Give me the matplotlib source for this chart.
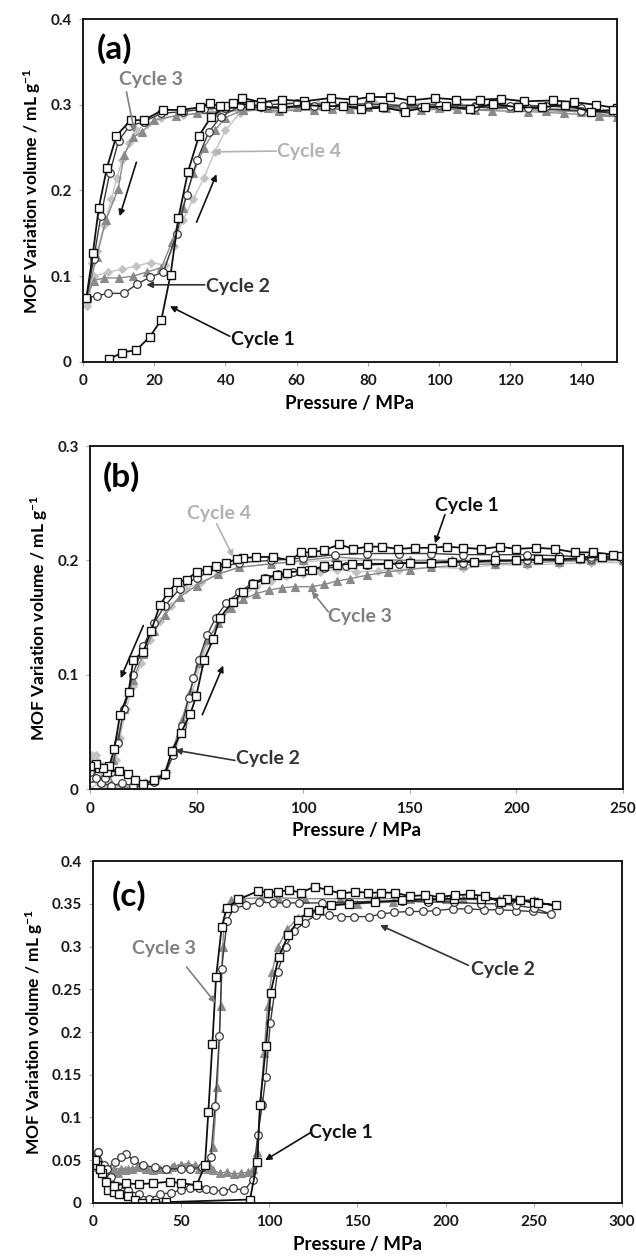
import matplotlib
matplotlib.use('Agg')
import matplotlib.pyplot as plt
from matplotlib.ticker import FuncFormatter

plt.rcParams['font.family'] = ['Lato', 'DejaVu Sans']
plt.rcParams['font.weight'] = 'bold'
plt.rcParams['axes.labelweight'] = 'bold'
plt.rcParams['mathtext.default'] = 'regular'

# ---------------- panel (a) ----------------
a_c1_p = [7.2, 11, 15, 18.7, 22, 24.6, 26.8, 29.5, 32.6, 36, 40, 44.8, 50, 56, 62, 69.8, 75.9, 80.5, 86.2, 92,
          98.8, 104.9, 111.4, 117.5, 124, 132, 138, 144, 150,
          148.9, 142.8, 135.3, 128.8, 122.2, 115.2, 108.6, 102.1, 96, 90.4, 84.3, 78.2, 73, 67.9, 62.3, 56, 50,
          47, 42, 38.4, 35.6, 32.8, 27.6, 22.5, 17, 13.4, 9.4, 6.7, 4.4, 2.8, 0.95]
a_c1_v = [0.003, 0.011, 0.014, 0.029, 0.049, 0.102, 0.168, 0.222, 0.264, 0.286, 0.298, 0.308, 0.303, 0.306, 0.304,
          0.308, 0.306, 0.309, 0.309, 0.305, 0.308, 0.306, 0.306, 0.307, 0.304, 0.305, 0.303, 0.300, 0.296,
          0.294, 0.292, 0.300, 0.297, 0.297, 0.301, 0.295, 0.298, 0.297, 0.292, 0.297, 0.295, 0.299, 0.298, 0.300,
          0.296, 0.298, 0.300, 0.302, 0.298, 0.302, 0.297, 0.294, 0.294, 0.282, 0.282, 0.264, 0.226, 0.179, 0.127, 0.075]

a_c2_p = [1, 3.8, 7, 11.5, 15.2, 18.9, 22.6, 26.3, 29.1, 32, 35.3, 38.7, 44, 52, 60, 70, 80, 90, 100, 110,
          120, 130, 140, 150,
          140, 125, 110, 95, 80, 65, 50, 40, 34, 28, 22, 17, 13, 10, 7.5, 5, 3, 1]
a_c2_v = [0.075, 0.077, 0.080, 0.080, 0.091, 0.099, 0.105, 0.149, 0.195, 0.235, 0.268, 0.286, 0.298, 0.300,
          0.302, 0.300, 0.301, 0.299, 0.300, 0.299, 0.298, 0.299, 0.296, 0.290,
          0.293, 0.296, 0.297, 0.297, 0.298, 0.298, 0.297, 0.296, 0.295, 0.292, 0.290, 0.280, 0.275, 0.258,
          0.220, 0.170, 0.120, 0.075]

a_c3_p = [1, 3, 6, 10, 14, 18, 22, 25, 28, 31, 34, 37, 40, 45, 52, 60, 70, 80, 90, 100, 110, 120, 130, 140, 150,
          145, 135, 125, 115, 105, 95, 85, 75, 65, 55, 45, 38, 32, 26, 20, 16.5, 14, 11.5, 9.9, 6.4, 3.8, 1]
a_c3_v = [0.075, 0.095, 0.098, 0.098, 0.100, 0.105, 0.110, 0.140, 0.180, 0.220, 0.250, 0.270, 0.285, 0.294,
          0.296, 0.297, 0.295, 0.297, 0.295, 0.296, 0.294, 0.296, 0.293, 0.292, 0.286,
          0.287, 0.290, 0.292, 0.293, 0.295, 0.294, 0.296, 0.295, 0.294, 0.293, 0.294, 0.292, 0.290, 0.287,
          0.282, 0.268, 0.262, 0.241, 0.202, 0.165, 0.122, 0.075]

a_c4_p = [1, 3, 7, 11, 15, 19, 23, 25.5, 28, 31, 34, 37, 40, 44, 50, 58, 66, 74, 82, 90, 98, 106, 114, 122,
          130, 138, 146, 150,
          144, 134, 124, 114, 104, 94, 84, 74, 64, 54, 44, 36, 28, 22, 18, 15, 13, 11, 9.5, 8, 6, 4, 2.5, 1]
a_c4_v = [0.065, 0.100, 0.105, 0.108, 0.112, 0.116, 0.113, 0.135, 0.165, 0.190, 0.215, 0.245, 0.270, 0.290,
          0.296, 0.299, 0.301, 0.300, 0.302, 0.299, 0.301, 0.300, 0.299, 0.301, 0.298, 0.296, 0.292, 0.288,
          0.291, 0.295, 0.297, 0.298, 0.299, 0.298, 0.299, 0.297, 0.296, 0.294, 0.293, 0.290, 0.288, 0.285,
          0.278, 0.270, 0.255, 0.235, 0.215, 0.190, 0.160, 0.130, 0.115, 0.070]

# ---------------- panel (b) ----------------
b_c1_p = [0, 4, 8, 13.8, 17.7, 21, 25, 30, 35.2, 38.3, 42.6, 47.1, 49.8, 53.5, 57.8, 60.9, 67.2, 71.6, 76.6, 82.2,
          87.5, 92.2, 99.2, 104, 110, 116, 123, 130, 140, 150, 160, 170, 180, 190, 200, 210, 220, 230, 240, 249,
          245.4, 236, 227.4, 218, 209.4, 200, 192.2, 183.6, 175, 167.3, 160.2, 152.4, 144.6, 136.8, 130.5, 123.5,
          117, 110, 104, 99.2, 93.8, 85.9, 78, 72, 68.8, 64, 59, 54.7, 50, 45.3, 40.7, 36.7, 32.8, 28.6, 25, 20.3,
          18.1, 14.1, 11.4, 9, 6, 3, 0]
b_c1_v = [0.020, 0.018, 0.015, 0.016, 0.013, 0.008, 0.004, 0.008, 0.013, 0.033, 0.049, 0.066, 0.081, 0.113,
          0.131, 0.150, 0.164, 0.172, 0.179, 0.184, 0.187, 0.189, 0.191, 0.192, 0.195, 0.196, 0.197, 0.197,
          0.197, 0.198, 0.198, 0.199, 0.199, 0.200, 0.200, 0.201, 0.201, 0.202, 0.203, 0.204,
          0.205, 0.207, 0.207, 0.210, 0.211, 0.210, 0.212, 0.210, 0.211, 0.212, 0.211, 0.211, 0.210, 0.212,
          0.212, 0.210, 0.214, 0.209, 0.207, 0.207, 0.200, 0.203, 0.203, 0.202, 0.201, 0.198, 0.195, 0.192,
          0.190, 0.183, 0.181, 0.172, 0.161, 0.138, 0.120, 0.113, 0.085, 0.065, 0.035, 0.020, 0.018, 0.022, 0.020]

b_c2_p = [0, 5, 10, 15, 20, 25, 30, 35, 39, 43, 46.3, 48.5, 51, 55, 59, 64, 70, 76, 82, 88, 95, 102, 110, 120,
          130, 145, 160, 175, 190, 205, 220, 235, 250,
          235, 220, 205, 190, 175, 160, 145, 130, 115, 100, 85, 70, 60, 50, 42, 35, 30, 25, 20, 16, 13, 10, 7, 3, 0]
b_c2_v = [0.010, 0.005, 0.003, 0.005, 0.003, 0.002, 0.006, 0.012, 0.030, 0.055, 0.080, 0.097, 0.113, 0.135,
          0.150, 0.163, 0.172, 0.180, 0.185, 0.188, 0.190, 0.192, 0.193, 0.195, 0.196, 0.197, 0.198, 0.198,
          0.199, 0.200, 0.200, 0.201, 0.201,
          0.203, 0.204, 0.205, 0.205, 0.205, 0.206, 0.206, 0.206, 0.205, 0.202, 0.200, 0.198, 0.193, 0.185,
          0.175, 0.160, 0.145, 0.125, 0.100, 0.070, 0.040, 0.015, 0.010, 0.010, 0.015]

b_c3_p = [0, 5, 10, 15, 20, 25, 30, 35, 39, 43, 47, 51, 55, 60, 66, 72, 78, 84, 90, 96, 104, 110, 116, 122, 130,
          140, 150, 160, 175, 190, 205, 220, 235, 250,
          230, 210, 190, 170, 150, 130, 115, 100, 85, 70, 60, 50, 42, 35, 30, 25, 20, 16, 13, 11, 8, 5, 2, 0]
b_c3_v = [0.010, 0.010, 0.005, 0.002, 0.001, 0.003, 0.008, 0.015, 0.035, 0.060, 0.085, 0.110, 0.130, 0.145,
          0.158, 0.166, 0.171, 0.174, 0.176, 0.177, 0.177, 0.179, 0.182, 0.184, 0.187, 0.190, 0.192, 0.194,
          0.196, 0.197, 0.198, 0.199, 0.200, 0.200,
          0.201, 0.200, 0.200, 0.200, 0.200, 0.201, 0.203, 0.200, 0.197, 0.194, 0.188, 0.178, 0.168, 0.152,
          0.138, 0.118, 0.095, 0.070, 0.045, 0.025, 0.012, 0.008, 0.012, 0.015]

b_c4_p = [0, 4, 8, 14, 20, 26, 32, 36, 40, 44, 48, 52, 56, 61, 66, 72, 78, 85, 92, 100, 108, 116, 125, 135, 145,
          160, 175, 190, 205, 220, 235, 250,
          230, 210, 190, 170, 150, 130, 115, 100, 85, 70, 60, 52, 45, 38, 33, 28, 24, 20, 17, 14, 12, 9, 6, 3, 1, 0]
b_c4_v = [0.000, 0.005, 0.003, 0.002, 0.003, 0.006, 0.010, 0.015, 0.033, 0.058, 0.085, 0.110, 0.130, 0.148,
          0.160, 0.170, 0.177, 0.182, 0.186, 0.188, 0.190, 0.192, 0.190, 0.191, 0.192, 0.194, 0.193, 0.196,
          0.196, 0.197, 0.198, 0.198,
          0.200, 0.200, 0.200, 0.200, 0.200, 0.200, 0.200, 0.199, 0.197, 0.194, 0.188, 0.181, 0.175, 0.160,
          0.147, 0.130, 0.110, 0.090, 0.070, 0.045, 0.025, 0.012, 0.020, 0.030, 0.030, 0.028]

# ---------------- panel (c) ----------------
c_c1_p = [2, 5, 8.5, 12, 15, 20, 24, 28, 35, 41.5, 89, 93.2, 94.7, 98.1, 100.8, 105.3, 110.8, 116.5, 122, 128,
          135, 145, 160, 175, 190, 205, 220, 235, 250, 262.7,
          252.3, 241.9, 231.5, 222.1, 213.6, 205.1, 196.6, 188.1, 179.6, 171, 163.5, 156, 148.4, 140.9, 133.3,
          125.7, 117.9, 111.3, 104.7, 99, 93.8, 82.4, 75.8, 73, 69.8, 67.7, 65.4, 63.5, 58.8, 50, 43.4, 34, 26,
          18.9, 12, 7.2, 4, 1]
c_c1_v = [0.045, 0.035, 0.015, 0.013, 0.011, 0.008, 0.004, 0.000, 0.000, 0.001, 0.004, 0.048, 0.115, 0.184,
          0.246, 0.288, 0.313, 0.331, 0.340, 0.343, 0.348, 0.350, 0.352, 0.354, 0.355, 0.356, 0.356, 0.356,
          0.352, 0.348,
          0.351, 0.354, 0.352, 0.359, 0.361, 0.360, 0.358, 0.360, 0.359, 0.363, 0.363, 0.363, 0.364, 0.362,
          0.366, 0.370, 0.363, 0.366, 0.364, 0.363, 0.365, 0.355, 0.345, 0.323, 0.264, 0.186, 0.106, 0.044,
          0.021, 0.023, 0.025, 0.023, 0.022, 0.023, 0.020, 0.025, 0.040, 0.050]

c_c2_p = [0, 3, 6, 10, 14, 20, 26, 32, 38, 44, 50, 55, 60.4, 64, 67.9, 73.6, 79.2, 85.8, 90.6, 93.4, 96, 98,
          100.5, 104.7, 109.4, 114, 120, 126.6, 134.1, 140.7, 148.2, 156.7, 163.3, 170.9, 179.4, 187, 194.5,
          204, 212.5, 221.9, 230.4, 239.9, 249.3, 259.7,
          250, 240, 230, 220, 205, 190, 175, 160, 145, 130, 117, 109.4, 101.9, 94.3, 86.8, 80, 76, 73, 71.7,
          69.2, 66.8, 62, 55, 50, 41.5, 35, 28.3, 23, 18.9, 16, 12.3, 8, 5, 2.8, 0]
c_c2_v = [0.052, 0.060, 0.045, 0.030, 0.020, 0.015, 0.010, 0.005, 0.010, 0.012, 0.015, 0.017, 0.018, 0.016,
          0.015, 0.014, 0.017, 0.015, 0.027, 0.079, 0.115, 0.147, 0.210, 0.270, 0.300, 0.318, 0.328, 0.337,
          0.337, 0.335, 0.335, 0.335, 0.338, 0.340, 0.341, 0.341, 0.342, 0.344, 0.344, 0.343, 0.343, 0.342,
          0.341, 0.338,
          0.345, 0.348, 0.350, 0.350, 0.352, 0.352, 0.353, 0.353, 0.352, 0.351, 0.351, 0.351, 0.351, 0.352,
          0.348, 0.345, 0.330, 0.274, 0.195, 0.113, 0.054, 0.042, 0.040, 0.040, 0.040, 0.042, 0.044, 0.050,
          0.057, 0.054, 0.048, 0.040, 0.035, 0.060, 0.052]

c_c3_p = [0, 4, 8, 12, 16, 20, 25, 30, 35, 40, 45, 50, 55, 60, 65, 68, 72, 76, 80, 84, 88, 91, 93, 95, 97, 99,
          101.5, 105, 110, 116, 124, 135, 150, 170, 190, 210, 230, 250,
          240, 220, 200, 180, 160, 140, 120, 105, 95, 85, 78, 75, 73.5, 72.4, 70.5, 68.2, 66, 62, 58, 54, 50, 46,
          42, 38, 34, 30, 26, 22, 18, 14, 10, 6, 3, 0]
c_c3_v = [0.045, 0.040, 0.035, 0.040, 0.040, 0.040, 0.042, 0.042, 0.040, 0.040, 0.042, 0.045, 0.042, 0.040,
          0.040, 0.038, 0.035, 0.036, 0.034, 0.035, 0.036, 0.040, 0.060, 0.120, 0.175, 0.230, 0.270, 0.300,
          0.320, 0.333, 0.342, 0.348, 0.350, 0.352, 0.354, 0.355, 0.355, 0.354,
          0.355, 0.356, 0.356, 0.356, 0.356, 0.356, 0.356, 0.357, 0.357, 0.356, 0.354, 0.345, 0.300, 0.230,
          0.136, 0.066, 0.045, 0.042, 0.044, 0.046, 0.045, 0.043, 0.040, 0.040, 0.038, 0.040, 0.042, 0.040,
          0.038, 0.035, 0.038, 0.040, 0.042, 0.045]

# styles for each cycle
c1 = dict(marker='s', color='#111111', mfc='white', mec='#111111', ms=6, lw=1.3, mew=1.0)
c2 = dict(marker='o', color='#3a3a3a', mfc='white', mec='#3a3a3a', ms=5.5, lw=1.0, mew=0.9)
c3 = dict(marker='^', color='#8a8a8a', mfc='#8a8a8a', mec='#8a8a8a', ms=5.5, lw=1.0, mew=0.8)
c4 = dict(marker='D', color='#c3c3c3', mfc='#c3c3c3', mec='#c3c3c3', ms=4.5, lw=1.0, mew=0.8)
txt1, txt2, txt3, txt4 = '#111111', '#333333', '#808080', '#b2b2b2'
lab_size = 14


def style_axis(ax, xticks, ymax, ystep, xmax):
    ax.set_xlim(0, xmax)
    ax.set_ylim(0, ymax)
    ax.set_xticks(xticks)
    ax.set_yticks([i * ystep for i in range(int(round(ymax / ystep)) + 1)])
    ax.yaxis.set_major_formatter(FuncFormatter(lambda v, pos: '%g' % round(v, 3)))
    ax.tick_params(labelsize=11, length=3, width=0.8, color='#aaaaaa', labelcolor='#1a1a1a')
    ax.tick_params(axis='x', pad=6)
    ax.tick_params(axis='y', pad=5)
    for lbl in ax.get_xticklabels() + ax.get_yticklabels():
        lbl.set_fontweight('bold')
    for s in ax.spines.values():
        s.set_linewidth(1.4)
        s.set_color('#1a1a1a')
    ax.set_xlabel('Pressure / MPa', fontsize=13.5, fontweight='bold', labelpad=5)
    ax.set_ylabel(r'MOF Variation volume / mL g$^{-1}$', fontsize=12.5, fontweight='bold', labelpad=5)


def arrow(ax, start, end, color):
    ax.annotate('', xy=end, xytext=start,
                arrowprops=dict(arrowstyle='-|>', color=color, lw=1.2, mutation_scale=9,
                                shrinkA=0, shrinkB=0))


fig = plt.figure(figsize=(6.36, 12.59), dpi=100)

# Panel (a)
ax = fig.add_axes([0.1305, 0.7125, 0.8396, 0.2724])
ax.plot(a_c4_p, a_c4_v, **c4)
ax.plot(a_c3_p, a_c3_v, **c3)
ax.plot(a_c2_p, a_c2_v, **c2)
ax.plot(a_c1_p, a_c1_v, **c1)
style_axis(ax, [0, 20, 40, 60, 80, 100, 120, 140], 0.4, 0.1, 150)
ax.text(0.025, 0.96, '(a)', transform=ax.transAxes, fontsize=24, va='top', ha='left')
ax.text(19, 0.329, 'Cycle 3', color=txt3, fontsize=lab_size, ha='center', va='center')
arrow(ax, (12.2, 0.315), (14.5, 0.268), txt3)
ax.text(63.5, 0.245, 'Cycle 4', color=txt4, fontsize=lab_size, ha='center', va='center')
arrow(ax, (54.3, 0.246), (36.5, 0.245), txt4)
ax.text(43.5, 0.088, 'Cycle 2', color=txt2, fontsize=lab_size, ha='center', va='center')
arrow(ax, (34.2, 0.090), (17.8, 0.090), txt2)
ax.text(50.6, 0.026, 'Cycle 1', color=txt1, fontsize=lab_size, ha='center', va='center')
arrow(ax, (41.2, 0.030), (24.4, 0.065), txt1)
arrow(ax, (15, 0.233), (10.3, 0.170), txt1)
arrow(ax, (31.9, 0.163), (37.5, 0.219), txt1)

# Panel (b)
ax = fig.add_axes([0.1415, 0.3733, 0.838, 0.2724])
ax.plot(b_c4_p, b_c4_v, **c4)
ax.plot(b_c3_p, b_c3_v, **c3)
ax.plot(b_c2_p, b_c2_v, **c2)
ax.plot(b_c1_p, b_c1_v, **c1)
style_axis(ax, [0, 50, 100, 150, 200, 250], 0.3, 0.1, 250)
ax.text(0.024, 0.955, '(b)', transform=ax.transAxes, fontsize=24, va='top', ha='left')
ax.text(60.6, 0.241, 'Cycle 4', color=txt4, fontsize=lab_size, ha='center', va='center')
arrow(ax, (59.4, 0.232), (67.2, 0.203), txt4)
ax.text(176.7, 0.248, 'Cycle 1', color=txt1, fontsize=lab_size, ha='center', va='center')
arrow(ax, (166.5, 0.240), (161.8, 0.215), txt1)
ax.text(126.6, 0.151, 'Cycle 3', color=txt3, fontsize=lab_size, ha='center', va='center')
arrow(ax, (111.8, 0.155), (104, 0.173), txt3)
ax.text(83.6, 0.027, 'Cycle 2', color=txt2, fontsize=lab_size, ha='center', va='center')
arrow(ax, (68, 0.025), (39.9, 0.034), txt2)
arrow(ax, (25, 0.143), (14.4, 0.097), txt1)
arrow(ax, (52.7, 0.065), (62.5, 0.108), txt1)

# Panel (c)
ax = fig.add_axes([0.1462, 0.0445, 0.8318, 0.2716])
ax.plot(c_c3_p, c_c3_v, **c3)
ax.plot(c_c2_p, c_c2_v, **c2)
ax.plot(c_c1_p, c_c1_v, **c1)
style_axis(ax, [0, 50, 100, 150, 200, 250, 300], 0.4, 0.05, 300)
ax.text(0.036, 0.945, '(c)', transform=ax.transAxes, fontsize=24, va='top', ha='left')
ax.text(40.4, 0.298, 'Cycle 3', color=txt3, fontsize=lab_size, ha='center', va='center')
arrow(ax, (53.1, 0.276), (69.5, 0.234), txt3)
ax.text(232.7, 0.273, 'Cycle 2', color=txt2, fontsize=lab_size, ha='center', va='center')
arrow(ax, (212.9, 0.278), (162.8, 0.325), txt2)
ax.text(140.6, 0.083, 'Cycle 1', color=txt1, fontsize=lab_size, ha='center', va='center')
arrow(ax, (123.1, 0.082), (97.6, 0.050), txt1)

fig.savefig('out.png', dpi=100)
